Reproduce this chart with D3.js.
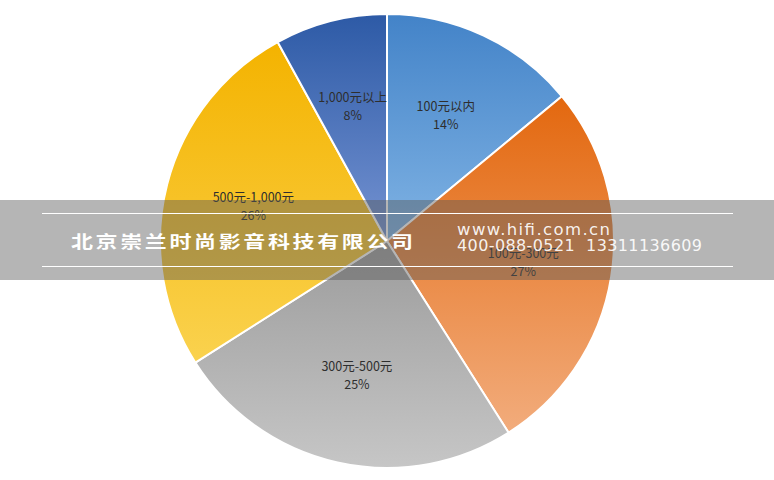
<!DOCTYPE html>
<html>
<head>
<meta charset="utf-8">
<script src="https://cdn.jsdelivr.net/npm/d3@7"></script>
<style>
  html, body { margin: 0; padding: 0; background: #ffffff; }
  svg { display: block; }
</style>
</head>
<body>
<svg id="chart" width="774" height="480"></svg>
<script>
// ---- data ----
const categories = ["100元以内", "100元-300元", "300元-500元", "500元-1,000元", "1,000元以上"];
const values = [14, 27, 25, 26, 8];
const percentLabels = ["14%", "27%", "25%", "26%", "8%"];
const colorTop = ["#4383c8", "#e3680f", "#9c9c9c", "#f4b300", "#2d5aa6"];
const colorBottom = ["#80b3e4", "#f2ac7c", "#c6c6c6", "#fad24e", "#7593d2"];
const watermarkCompany = "北京崇兰时尚影音科技有限公司";
const watermarkSite = "www.hifi.com.cn";
const watermarkPhone = "400-088-0521  13311136609";

// ---- layout ----
const W = 774, H = 480;
const cx = 387, cy = 241, R = 227;
const svg = d3.select("#chart");
const defs = svg.append("defs");

categories.forEach((c, i) => {
  const g = defs.append("linearGradient")
    .attr("id", "grad" + i)
    .attr("x1", 0).attr("y1", 0).attr("x2", 0).attr("y2", 1);
  g.append("stop").attr("offset", "0%").attr("stop-color", colorTop[i]);
  g.append("stop").attr("offset", "100%").attr("stop-color", colorBottom[i]);
});

const pie = d3.pie().sort(null).value(d => d.v);
const arcs = pie(categories.map((c, i) => ({ c, v: values[i], p: percentLabels[i], i })));
const arc = d3.arc().innerRadius(0).outerRadius(R);
const labelArc = d3.arc().innerRadius(138).outerRadius(138);

const g = svg.append("g").attr("transform", `translate(${cx},${cy})`);
g.selectAll("path.slice")
  .data(arcs)
  .join("path")
  .attr("class", "slice")
  .attr("d", arc)
  .attr("fill", d => `url(#grad${d.data.i})`)
  .attr("stroke", "#ffffff")
  .attr("stroke-width", 2)
  .attr("stroke-linejoin", "round");

const lbl = g.selectAll("g.lbl")
  .data(arcs)
  .join("g")
  .attr("class", "lbl")
  .attr("transform", d => `translate(${labelArc.centroid(d)})`);
lbl.append("text")
  .attr("text-anchor", "middle")
  .attr("y", -5)
  .attr("font-family", "'Noto Sans CJK SC', 'Liberation Sans', sans-serif")
  .attr("font-size", 12.5)
  .attr("fill", "#2e2e2e")
  .text(d => d.data.c);
lbl.append("text")
  .attr("text-anchor", "middle")
  .attr("y", 13)
  .attr("font-family", "'Noto Sans CJK SC', 'Liberation Sans', sans-serif")
  .attr("font-size", 12.5)
  .attr("fill", "#2e2e2e")
  .text(d => d.data.p);

// ---- watermark band ----
const band = svg.append("g");
band.append("rect")
  .attr("x", 0).attr("y", 200).attr("width", W).attr("height", 80)
  .attr("fill", "rgba(90,90,90,0.45)");
band.append("line")
  .attr("x1", 42).attr("x2", 733).attr("y1", 213.5).attr("y2", 213.5)
  .attr("stroke", "#ffffff").attr("stroke-width", 1.2);
band.append("line")
  .attr("x1", 42).attr("x2", 733).attr("y1", 266.5).attr("y2", 266.5)
  .attr("stroke", "#ffffff").attr("stroke-width", 1.2);
band.append("text")
  .attr("transform", "translate(71,248) scale(1,0.75)")
  .attr("font-family", "'Noto Sans CJK SC', sans-serif")
  .attr("font-weight", "bold")
  .attr("font-size", 22)
  .attr("textLength", 342)
  .attr("lengthAdjust", "spacing")
  .attr("fill", "#ffffff")
  .text(watermarkCompany);
band.append("text")
  .attr("x", 457).attr("y", 235)
  .attr("font-family", "'DejaVu Sans', sans-serif")
  .attr("font-size", 16.5)
  .attr("textLength", 153)
  .attr("lengthAdjust", "spacing")
  .attr("fill", "#ffffff")
  .attr("fill-opacity", 0.92)
  .text(watermarkSite);
band.append("text")
  .attr("x", 457).attr("y", 251)
  .attr("font-family", "'DejaVu Sans', sans-serif")
  .attr("font-size", 16)
  .attr("textLength", 245)
  .attr("lengthAdjust", "spacing")
  .attr("fill", "#ffffff")
  .attr("fill-opacity", 0.92)
  .style("white-space", "pre")
  .text(watermarkPhone);
</script>
</body>
</html>
